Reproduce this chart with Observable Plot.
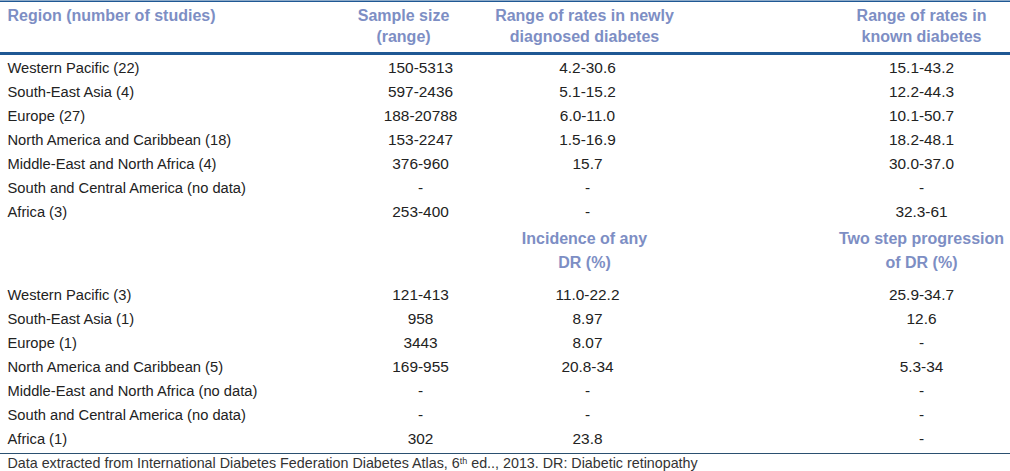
<!DOCTYPE html>
<html>
<head>
<meta charset="utf-8">
<script src="https://cdn.jsdelivr.net/npm/d3@7"></script>
<script src="https://cdn.jsdelivr.net/npm/@observablehq/plot@0.6"></script>
<style>
  html, body { margin: 0; padding: 0; background: #fff; }
  svg { display: block; }
</style>
</head>
<body>
<div id="chart"></div>
<script>
// ---- Data ----
const headerTop = ["Region (number of studies)", "Sample size\n(range)", "Range of rates in newly\ndiagnosed diabetes", "Range of rates in\nknown diabetes"];
const headerMid = ["Incidence of any\nDR (%)", "Two step progression\nof DR (%)"];

const regions1 = ["Western Pacific (22)", "South-East Asia (4)", "Europe (27)", "North America and Caribbean (18)", "Middle-East and North Africa (4)", "South and Central America (no data)", "Africa (3)"];
const sample1 = ["150-5313", "597-2436", "188-20788", "153-2247", "376-960", "-", "253-400"];
const newlyDiagnosed = ["4.2-30.6", "5.1-15.2", "6.0-11.0", "1.5-16.9", "15.7", "-", "-"];
const knownDiabetes = ["15.1-43.2", "12.2-44.3", "10.1-50.7", "18.2-48.1", "30.0-37.0", "-", "32.3-61"];

const regions2 = ["Western Pacific (3)", "South-East Asia (1)", "Europe (1)", "North America and Caribbean (5)", "Middle-East and North Africa (no data)", "South and Central America (no data)", "Africa (1)"];
const sample2 = ["121-413", "958", "3443", "169-955", "-", "-", "302"];
const incidenceDR = ["11.0-22.2", "8.97", "8.07", "20.8-34", "-", "-", "23.8"];
const twoStepDR = ["25.9-34.7", "12.6", "-", "5.3-34", "-", "-", "-"];

const footnoteParts = ["Data extracted from International Diabetes Federation Diabetes Atlas, 6", "th", " ed.., 2013. DR: Diabetic retinopathy"];

// ---- Layout ----
const W = 1010, H = 471;
const colX = {region: 7, sample: 420, newly: 587, known: 921};
const headX = {region: 7, sample: 403, newly: 584, known: 921};
const rowStep = 24;
const sec1Y = 68, sec2Y = 295;

const FONT = "'Liberation Sans', Arial, Helvetica, sans-serif";
const headColor = "#7d8ec4";
const textColor = "#222";
const regionSize = 14.7, numSize = 15.4, headSize = 16, footSize = 14.3;

function tableRows(regions, sample, a, b, y0) {
  return regions.map((r, i) => ({region: r, sample: sample[i], a: a[i], b: b[i], y: y0 + i * rowStep}));
}
const rows = [...tableRows(regions1, sample1, newlyDiagnosed, knownDiabetes, sec1Y),
              ...tableRows(regions2, sample2, incidenceDR, twoStepDR, sec2Y)];

const topHeads = [
  {text: headerTop[1], x: headX.sample},
  {text: headerTop[2], x: headX.newly},
  {text: headerTop[3], x: headX.known}
];
const midHeads = [
  {text: headerMid[0], x: headX.newly},
  {text: headerMid[1], x: headX.known}
];

const num = {fontSize: numSize, fill: textColor, fontFamily: FONT, textAnchor: "middle"};
const headStyle = {fill: headColor, fontWeight: "bold", fontSize: headSize, fontFamily: FONT, textAnchor: "middle", lineAnchor: "middle"};

const chart = Plot.plot({
  width: W, height: H,
  margin: 0,
  x: {type: "linear", domain: [0, W], range: [0, W], axis: null},
  y: {type: "linear", domain: [0, H], range: [0, H], axis: null},
  style: {fontFamily: FONT, background: "#fff"},
  marks: [
    Plot.ruleY([0.75], {stroke: "#1f5894", strokeWidth: 1.5}),
    Plot.ruleY([53], {stroke: "#1f5894", strokeWidth: 3}),
    Plot.ruleY([453], {stroke: "#2b5070", strokeWidth: 1}),
    Plot.text([headerTop[0]], {x: () => headX.region, y: () => 15, text: d => d, ...headStyle, textAnchor: "start"}),
    Plot.text(topHeads, {x: "x", y: () => 24.5, text: "text", ...headStyle, lineHeight: 21 / headSize}),
    Plot.text(midHeads, {x: "x", y: () => 247.5, text: "text", ...headStyle, lineHeight: 24.5 / headSize}),
    Plot.text(rows, {x: () => colX.region, y: "y", text: "region", textAnchor: "start", fontSize: regionSize, fill: textColor, fontFamily: FONT}),
    Plot.text(rows, {x: () => colX.sample, y: "y", text: "sample", ...num}),
    Plot.text(rows, {x: () => colX.newly, y: "y", text: "a", ...num}),
    Plot.text(rows, {x: () => colX.known, y: "y", text: "b", ...num}),
    Plot.text([footnoteParts.join("")], {x: () => 7, y: () => 463, text: d => d, textAnchor: "start", fontSize: footSize, fill: "#333", fontFamily: FONT, className: "footnote"})
  ]
});
document.getElementById("chart").append(chart);

// Render the ordinal "th" as a superscript inside the footnote text
const foot = chart.querySelector(".footnote text");
if (foot) {
  foot.textContent = "";
  const ns = "http://www.w3.org/2000/svg";
  const t1 = document.createElementNS(ns, "tspan"); t1.textContent = footnoteParts[0];
  const t2 = document.createElementNS(ns, "tspan"); t2.textContent = footnoteParts[1];
  t2.setAttribute("font-size", 9); t2.setAttribute("dy", "-4");
  const t3 = document.createElementNS(ns, "tspan"); t3.textContent = footnoteParts[2];
  t3.setAttribute("dy", "4");
  foot.append(t1, t2, t3);
}
</script>
</body>
</html>
